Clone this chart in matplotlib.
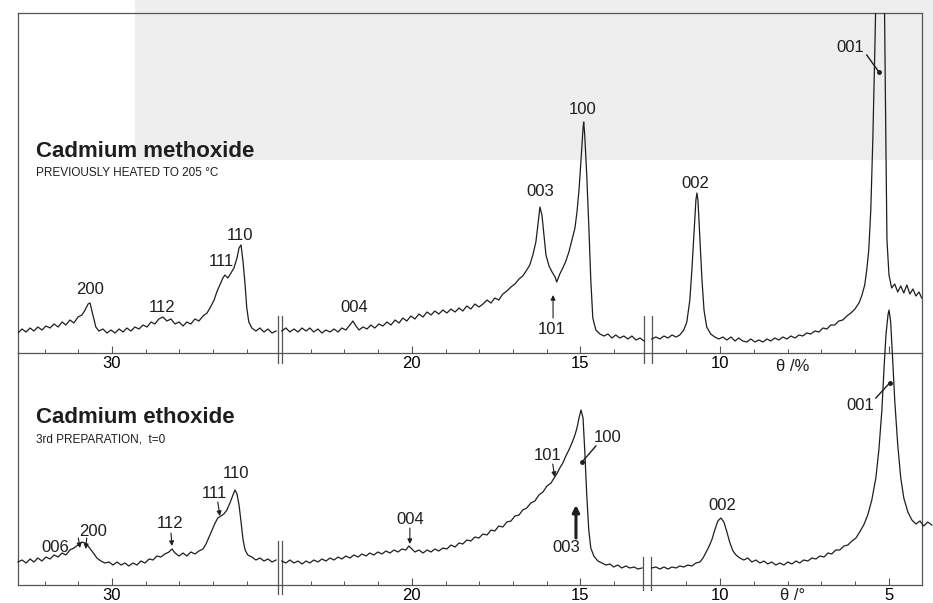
import numpy as np
import matplotlib
matplotlib.use('Agg')
import matplotlib.pyplot as plt
import matplotlib.transforms as mtransforms
from matplotlib.patches import Rectangle

plt.rcParams['font.family'] = ['Liberation Sans', 'DejaVu Sans']

# X-ray powder patterns, theta in degrees, intensity in arbitrary units
# top: cadmium methoxide (previously heated to 205 C)
theta_top = [
    32.79, 32.67, 32.55, 32.43, 32.32, 32.20, 32.08, 31.96, 31.84, 31.72,
    31.60, 31.48, 31.37, 31.25, 31.13, 31.01, 30.89, 30.80, 30.71, 30.65,
    30.59, 30.53, 30.48, 30.39, 30.27, 30.15, 30.03, 29.91, 29.79, 29.67,
    29.56, 29.44, 29.32, 29.20, 29.08, 28.96, 28.84, 28.73, 28.61, 28.49,
    28.37, 28.25, 28.13, 28.01, 27.89, 27.78, 27.66, 27.54, 27.42, 27.30,
    27.18, 27.06, 26.97, 26.89, 26.80, 26.71, 26.65, 26.56, 26.47, 26.38,
    26.29, 26.23, 26.17, 26.11, 26.05, 26.00, 25.94, 25.85, 25.73, 25.61,
    25.49, 25.37, 25.25, 25.13,
    23.86, 23.74, 23.62, 23.50, 23.38, 23.26, 23.14, 23.03, 22.91, 22.79,
    22.67, 22.55, 22.43, 22.31, 22.19, 22.08, 21.96, 21.84, 21.75, 21.66,
    21.57, 21.45, 21.33, 21.22, 21.10, 20.98, 20.86, 20.74, 20.62, 20.50,
    20.38, 20.27, 20.15, 20.03, 19.91, 19.79, 19.67, 19.55, 19.43, 19.32,
    19.20, 19.08, 18.96, 18.84, 18.72, 18.60, 18.49, 18.37, 18.25, 18.13,
    18.01, 17.89, 17.77, 17.65, 17.54, 17.42, 17.30, 17.18, 17.06, 16.94,
    16.82, 16.71, 16.59, 16.50, 16.41, 16.32, 16.26, 16.20, 16.14, 16.08,
    16.02, 15.93, 15.84, 15.75, 15.70, 15.61, 15.52, 15.43, 15.34, 15.25,
    15.16, 15.10, 15.04, 14.98, 14.92, 14.90, 14.87, 14.81, 14.75, 14.69,
    14.63, 14.54, 14.42, 14.30, 14.18, 14.06, 13.95, 13.83, 13.71, 13.59,
    13.47, 13.35, 13.23, 13.11,
    12.03, 11.91, 11.79, 11.67, 11.55, 11.43, 11.31, 11.20, 11.08, 10.99,
    10.90, 10.84, 10.78, 10.72, 10.69, 10.66, 10.60, 10.54, 10.48, 10.40,
    10.28, 10.16, 10.04, 9.92, 9.80, 9.68, 9.56, 9.45, 9.33, 9.21,
    9.09, 8.97, 8.85, 8.73, 8.61, 8.50, 8.38, 8.26, 8.14, 8.02,
    7.90, 7.78, 7.66, 7.55, 7.43, 7.31, 7.19, 7.07, 6.95, 6.83,
    6.72, 6.60, 6.48, 6.36, 6.24, 6.12, 6.00, 5.88, 5.80, 5.71,
    5.65, 5.59, 5.53, 5.47, 5.41, 5.38, 5.26, 5.14, 5.08, 5.05,
    4.99, 4.91, 4.82, 4.73, 4.64, 4.55, 4.46, 4.37, 4.28, 4.19,
    4.10, 4.02,
]
counts_top = [
    20, 24, 21, 25, 22, 26, 23, 27, 25, 29,
    26, 31, 28, 33, 30, 36, 38, 43, 49, 50,
    41, 33, 26, 22, 24, 20, 23, 20, 24, 21,
    25, 22, 26, 24, 28, 26, 31, 29, 34, 36,
    32, 34, 29, 31, 27, 31, 29, 34, 32, 37,
    40, 47, 53, 61, 68, 75, 78, 75, 80, 85,
    95, 105, 108, 91, 68, 45, 31, 25, 22, 25,
    21, 24, 20, 22,
    22, 25, 21, 24, 21, 25, 22, 25, 21, 24,
    20, 23, 21, 24, 21, 25, 23, 28, 32, 27,
    23, 26, 24, 28, 25, 29, 27, 31, 28, 33,
    30, 35, 32, 37, 34, 39, 36, 41, 38, 42,
    39, 43, 40, 44, 41, 45, 42, 47, 44, 49,
    46, 49, 53, 50, 55, 53, 59, 62, 66, 69,
    74, 77, 83, 88, 98, 111, 128, 146, 138, 118,
    98, 87, 81, 76, 71, 79, 85, 92, 101, 113,
    125, 141, 163, 193, 225, 231, 218, 178, 128, 73,
    35, 23, 19, 17, 19, 15, 18, 15, 17, 14,
    17, 13, 15, 12,
    14, 16, 14, 17, 15, 18, 16, 18, 23, 31,
    53, 83, 118, 153, 160, 153, 113, 73, 43, 26,
    19, 16, 14, 16, 13, 16, 12, 15, 12, 11,
    14, 11, 13, 11, 14, 12, 15, 13, 16, 14,
    17, 15, 18, 17, 20, 19, 22, 21, 25, 24,
    28, 28, 32, 33, 37, 40, 44, 50, 57, 68,
    83, 103, 143, 213, 303, 353, 700, 403, 203, 113,
    78, 65, 69, 61, 67, 60, 68, 59, 64, 57,
    61, 55,
]

# bottom: cadmium ethoxide (3rd preparation, t = 0)
theta_bot = [
    32.79, 32.67, 32.55, 32.43, 32.32, 32.20, 32.08, 31.96, 31.84, 31.72,
    31.60, 31.48, 31.37, 31.25, 31.13, 31.01, 30.89, 30.80, 30.71, 30.62,
    30.53, 30.45, 30.33, 30.21, 30.09, 29.97, 29.85, 29.73, 29.62, 29.50,
    29.38, 29.26, 29.14, 29.02, 28.90, 28.78, 28.67, 28.55, 28.43, 28.31,
    28.22, 28.13, 28.01, 27.89, 27.78, 27.66, 27.54, 27.42, 27.30, 27.21,
    27.12, 27.03, 26.94, 26.86, 26.77, 26.68, 26.59, 26.50, 26.41, 26.35,
    26.29, 26.23, 26.17, 26.11, 26.05, 25.97, 25.85, 25.73, 25.61, 25.49,
    25.37, 25.25, 25.13,
    23.86, 23.74, 23.62, 23.50, 23.38, 23.26, 23.14, 23.03, 22.91, 22.79,
    22.67, 22.55, 22.43, 22.31, 22.19, 22.08, 21.96, 21.84, 21.72, 21.60,
    21.48, 21.36, 21.25, 21.13, 21.01, 20.89, 20.77, 20.65, 20.53, 20.41,
    20.30, 20.18, 20.09, 20.00, 19.91, 19.79, 19.67, 19.55, 19.43, 19.32,
    19.20, 19.08, 18.96, 18.84, 18.72, 18.60, 18.49, 18.37, 18.25, 18.13,
    18.01, 17.89, 17.77, 17.65, 17.54, 17.42, 17.30, 17.18, 17.06, 16.94,
    16.82, 16.71, 16.59, 16.47, 16.35, 16.23, 16.11, 15.99, 15.87, 15.78,
    15.70, 15.61, 15.52, 15.43, 15.34, 15.25, 15.16, 15.10, 15.04, 14.98,
    14.92, 14.87, 14.81, 14.75, 14.69, 14.60, 14.48, 14.36, 14.24, 14.12,
    14.01, 13.89, 13.77, 13.65, 13.53, 13.41, 13.29, 13.17,
    12.03, 11.91, 11.79, 11.67, 11.55, 11.43, 11.31, 11.20, 11.08, 10.96,
    10.84, 10.72, 10.60, 10.51, 10.43, 10.34, 10.25, 10.16, 10.07, 9.98,
    9.89, 9.80, 9.71, 9.62, 9.53, 9.42, 9.30, 9.18, 9.06, 8.94,
    8.82, 8.70, 8.59, 8.47, 8.35, 8.23, 8.11, 7.99, 7.87, 7.75,
    7.64, 7.52, 7.40, 7.28, 7.16, 7.04, 6.92, 6.80, 6.69, 6.57,
    6.45, 6.33, 6.21, 6.09, 5.97, 5.86, 5.74, 5.62, 5.50, 5.38,
    5.29, 5.20, 5.14, 5.08, 5.02, 4.99, 4.94, 4.88, 4.82, 4.73,
    4.64, 4.55, 4.43, 4.31, 4.19, 4.07, 3.96, 3.84, 3.72,
]
counts_bot = [
    23, 25, 22, 26, 23, 27, 24, 28, 26, 30,
    28, 32, 30, 35, 37, 40, 43, 42, 39, 35,
    31, 27, 24, 22, 23, 20, 23, 20, 22, 19,
    22, 20, 24, 22, 26, 25, 29, 28, 31, 33,
    36, 32, 29, 32, 29, 33, 31, 34, 36, 41,
    48, 55, 62, 67, 69, 71, 75, 82, 90, 95,
    91, 80, 63, 45, 35, 30, 28, 25, 27, 24,
    26, 23, 25,
    24, 22, 25, 22, 24, 21, 24, 22, 25, 23,
    26, 24, 27, 25, 28, 26, 29, 27, 30, 28,
    31, 29, 32, 30, 33, 31, 34, 32, 35, 33,
    36, 35, 39, 36, 33, 35, 32, 35, 33, 36,
    34, 37, 36, 40, 38, 42, 41, 45, 44, 48,
    47, 51, 50, 55, 54, 59, 58, 63, 64, 69,
    70, 75, 77, 82, 84, 90, 93, 99, 102, 107,
    111, 117, 122, 129, 135, 142, 150, 157, 167, 175,
    167, 135, 90, 55, 37, 29, 24, 22, 20, 21,
    18, 20, 17, 19, 17, 18, 16, 17,
    17, 18, 16, 18, 16, 18, 17, 19, 18, 20,
    19, 22, 23, 27, 32, 38, 45, 55, 64, 67,
    63, 53, 42, 34, 30, 27, 25, 27, 23, 25,
    22, 24, 21, 23, 20, 22, 20, 23, 21, 24,
    22, 25, 24, 27, 26, 29, 28, 32, 31, 35,
    35, 39, 40, 44, 47, 53, 60, 70, 85, 107,
    135, 175, 215, 250, 270, 275, 263, 225, 185, 140,
    107, 87, 73, 65, 61, 64, 59, 63, 60,
]

# reflection labels (hkl) and where they sit (theta, intensity)
hkl_top = ['200', '112', '111', '110', '004', '003', '100', '101', '002', '001']
hkl_top_pos = [(30.65, 63), (28.52, 46), (26.74, 91), (26.20, 118), (21.72, 45),
               (16.20, 162), (14.92, 243), (15.84, 23), (10.75, 170), (6.15, 306)]
hkl_bot = ['006', '200', '112', '111', '110', '004', '101', '100', '003', '002', '001']
hkl_bot_pos = [(31.69, 37), (30.56, 53), (28.28, 61), (26.97, 92), (26.32, 111),
               (20.06, 66), (15.96, 130), (14.18, 147), (15.43, 37), (9.95, 80), (5.85, 180)]

major_ticks = [30, 20, 15, 10, 5]
minor_ticks = [32, 31, 29, 28, 27, 26, 23, 22, 21, 19, 18, 17, 16, 14, 11, 9, 8, 7, 6]
top_ticklabels = ['30', '20', '15', '10', '']
bot_ticklabels = ['30', '20', '15', '10', '5']

ink = '#1e1e1e'
frame = '#555555'


# broken theta axis: 13->12 and 25->24 are cut out
def fwd(t):
    t = np.asarray(t, dtype=float)
    return np.where(t < 12.1, t,
           np.where(t < 12.95, 12.1,
           np.where(t < 23.9, t - 0.85,
           np.where(t < 25, 23.05, t - 1.95))))


def inv(p):
    p = np.asarray(p, dtype=float)
    return np.where(p <= 12.1, p, np.where(p <= 23.05, p + 0.85, p + 1.95))


segments = [(25, 40), (12.95, 23.9), (0, 12.1)]


def draw_trace(ax, theta, counts, clip):
    theta = np.array(theta)
    counts = np.array(counts)
    for lo, hi in segments:
        m = (theta >= lo) & (theta <= hi)
        ax.plot(theta[m], counts[m], color=ink, lw=0.9, clip_on=clip, zorder=3)


def setup_axis(ax, labels, ymax):
    ax.set_xscale('function', functions=(fwd, inv))
    ax.set_xlim(32.79, 4.01)
    ax.set_ylim(0, ymax)
    ax.set_yticks([])
    ax.set_xticks(major_ticks)
    ax.set_xticklabels(labels)
    ax.set_xticks(minor_ticks, minor=True)
    ax.tick_params(axis='x', which='major', direction='in', length=5, width=0.8,
                   labelsize=12, pad=2, color=frame)
    ax.tick_params(axis='x', which='minor', direction='in', length=3, width=0.7, color=frame)
    ax.patch.set_alpha(0)
    for s in ax.spines.values():
        s.set_color(frame)
        s.set_linewidth(0.9)


def draw_breaks(ax, pairs, y0, y1):
    tr = mtransforms.blended_transform_factory(ax.transData, ax.transAxes)
    for a, b in pairs:
        for t in (a, b):
            ax.plot([t, t], [y0, y1], color=frame, lw=0.9, transform=tr, clip_on=False)


def arrow(ax, tail, tip, lw=0.8, scale=7):
    ax.annotate('', xy=tip, xytext=tail,
                arrowprops=dict(arrowstyle='-|>', color=ink, lw=lw, mutation_scale=scale,
                                shrinkA=0, shrinkB=0))


def leader(ax, tail, dot):
    ax.plot([tail[0], dot[0]], [tail[1], dot[1]], color=ink, lw=1.0, clip_on=False)
    ax.plot([dot[0]], [dot[1]], 'o', color=ink, ms=2.5, clip_on=False)


fig = plt.figure(figsize=(9.33, 6.03), dpi=100)
# faint grey show-through at the top of the scanned page
fig.patches.append(Rectangle((135 / 933, 1 - 160 / 603), 798 / 933, 160 / 603,
                             transform=fig.transFigure, facecolor='#eeeeee',
                             edgecolor='none', zorder=-5))

ax_top = fig.add_axes([18 / 933, 1 - 353 / 603, 904 / 933, 340 / 603])
ax_bot = fig.add_axes([18 / 933, 1 - 585 / 603, 904 / 933, 232 / 603])

setup_axis(ax_top, top_ticklabels, 340)
setup_axis(ax_bot, bot_ticklabels, 232)
ax_bot.spines['top'].set_visible(False)

draw_trace(ax_top, theta_top, counts_top, True)
draw_trace(ax_bot, theta_bot, counts_bot, False)

draw_breaks(ax_top, [(25.06, 23.84), (13.11, 12.03)], -0.03, 0.11)
draw_breaks(ax_bot, [(25.06, 23.84)], -0.04, 0.19)
draw_breaks(ax_bot, [(13.15, 12.05)], -0.02, 0.12)

# reflection labels
for name, (t, c) in zip(hkl_top, hkl_top_pos):
    ax_top.text(t, c, name, ha='center', va='center', fontsize=12, color=ink)
for name, (t, c) in zip(hkl_bot, hkl_bot_pos):
    ax_bot.text(t, c, name, ha='center', va='center', fontsize=12, color=ink, clip_on=False)

arrow(ax_top, (15.81, 35), (15.81, 58))
leader(ax_top, (5.65, 298), (5.29, 281))

arrow(ax_bot, (31.00, 47), (30.95, 37))
arrow(ax_bot, (30.75, 47), (30.78, 36))
arrow(ax_bot, (28.25, 52), (28.22, 39))
arrow(ax_bot, (26.86, 83), (26.80, 69))
arrow(ax_bot, (20.06, 57), (20.06, 41))
arrow(ax_bot, (15.82, 121), (15.76, 108))
arrow(ax_bot, (15.13, 47), (15.13, 80), lw=2.2, scale=10)
leader(ax_bot, (14.54, 139), (14.95, 123))
leader(ax_bot, (5.38, 187), (4.97, 202))

# axis captions
tr = mtransforms.blended_transform_factory(ax_top.transData, ax_top.transAxes)
ax_top.text(7.84, -0.041, 'θ /%', transform=tr, ha='center', va='center', fontsize=12, color=ink)
tr = mtransforms.blended_transform_factory(ax_bot.transData, ax_bot.transAxes)
ax_bot.text(7.84, -0.045, 'θ /°', transform=tr, ha='center', va='center', fontsize=12, color=ink)

# sample titles
fig.text(36 / 933, 1 - 157 / 603, 'Cadmium methoxide', ha='left', va='baseline',
         fontsize=16, fontweight='bold', color=ink)
fig.text(36 / 933, 1 - 176 / 603, 'PREVIOUSLY HEATED TO 205 °C', ha='left', va='baseline',
         fontsize=8.5, color=ink)
fig.text(36 / 933, 1 - 423 / 603, 'Cadmium ethoxide', ha='left', va='baseline',
         fontsize=16, fontweight='bold', color=ink)
fig.text(36 / 933, 1 - 442 / 603, '3rd PREPARATION,  t=0', ha='left', va='baseline',
         fontsize=8.5, color=ink)

fig.savefig('out.png', dpi=100, facecolor='white')
